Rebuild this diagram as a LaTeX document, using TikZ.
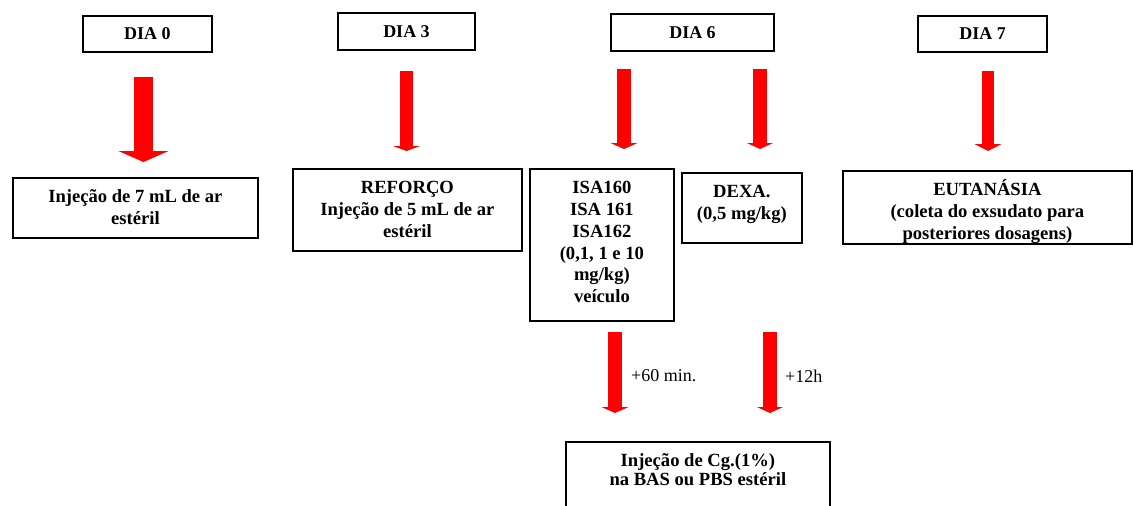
\documentclass[tikz,border=0pt]{standalone}
\usepackage{fontspec}
\setmainfont{Liberation Serif}
\usetikzlibrary{arrows.meta}
\newcommand\bxtext[3]{\parbox[c][#2][t]{#1}{\centering\rule{0pt}{25pt}#3\par}}
\tikzset{
  txtfont/.style={font=\fontsize{18.6}{21.7}\selectfont\bfseries},
  dayfont/.style={font=\fontsize{18}{21.7}\selectfont\bfseries},
  stagebox/.style={draw=black, line width=1.8pt, inner sep=0pt, anchor=north west, txtfont},
  daybox/.style={draw=black, line width=1.8pt, inner sep=0pt, anchor=center, dayfont},
  redarrow/.style={draw=red, fill=red},
  plainlabel/.style={anchor=west, inner sep=0pt, font=\fontsize{18}{21.7}\selectfont}
}
\begin{document}
\begin{tikzpicture}[x=1pt,y=-1pt]
\useasboundingbox (0,0) rectangle (1133,506);
\clip (0,0) rectangle (1133,506);
% day boxes
\node[daybox, minimum width=129pt, minimum height=36pt] (d0) at (147.5,34) {DIA 0};
\node[daybox, minimum width=137pt, minimum height=37pt] (d3) at (406.5,31.5) {DIA 3};
\node[daybox, minimum width=163pt, minimum height=37pt] (d6) at (692.5,32.5) {DIA 6};
\node[daybox, minimum width=129pt, minimum height=36pt] (d7) at (982.5,34) {DIA 7};
% stage boxes
\node[stagebox] (s0) at (12,177) {\bxtext{245pt}{60pt}{Injeção de 7 mL de ar\\estéril}};
\node[stagebox] (s3) at (292,168) {\bxtext{229pt}{82pt}{REFORÇO\\Injeção de 5 mL de ar\\estéril}};
\node[stagebox] (s6) at (529,168) {\bxtext{144pt}{152pt}{ISA160\\ISA 161\\ISA162\\(0,1, 1 e 10\\mg/kg)\\ veículo}};
\node[stagebox] (sx) at (681,172) {\bxtext{120pt}{70pt}{DEXA.\\(0,5 mg/kg)}};
\node[stagebox] (s7) at (842,170) {\bxtext{289pt}{73pt}{EUTANÁSIA\\(coleta do exsudato para\\posteriores dosagens)}};
\node[stagebox] (cg) at (565,441) {\bxtext{264pt}{90pt}{\vspace*{-3pt}Injeção de Cg.(1\%)\\na BAS ou PBS estéril}};
% arrow coordinates
\coordinate (a0s) at (143.5,77);  \coordinate (a0e) at (143.5,162);
\coordinate (a3s) at (406.5,71);  \coordinate (a3e) at (406.5,151);
\coordinate (a6s) at (624,69);    \coordinate (a6e) at (624,149);
\coordinate (axs) at (760,69);    \coordinate (axe) at (760,149);
\coordinate (a7s) at (988,71);    \coordinate (a7e) at (988,151);
\coordinate (b1s) at (615,332);   \coordinate (b1e) at (615,413);
\coordinate (b2s) at (770,332);   \coordinate (b2e) at (770,413);
\draw[redarrow, line width=19pt, -{Triangle[width=50pt,length=11pt]}] (a0s) -- (a0e);
\draw[redarrow, line width=13pt, -{Triangle[width=27pt,length=5pt]}] (a3s) -- (a3e);
\draw[redarrow, line width=14pt, -{Triangle[width=27pt,length=6pt]}] (a6s) -- (a6e);
\draw[redarrow, line width=14pt, -{Triangle[width=26pt,length=6pt]}] (axs) -- (axe);
\draw[redarrow, line width=12pt, -{Triangle[width=27pt,length=7pt]}] (a7s) -- (a7e);
\draw[redarrow, line width=14pt, -{Triangle[width=27pt,length=6pt]}] (b1s) -- (b1e);
\draw[redarrow, line width=14pt, -{Triangle[width=26pt,length=6pt]}] (b2s) -- (b2e);
% labels
\node[plainlabel] (l60) at (631,376) {+60 min.};
\node[plainlabel] (l12) at (785,376) {+12h};
\end{tikzpicture}
\end{document}
